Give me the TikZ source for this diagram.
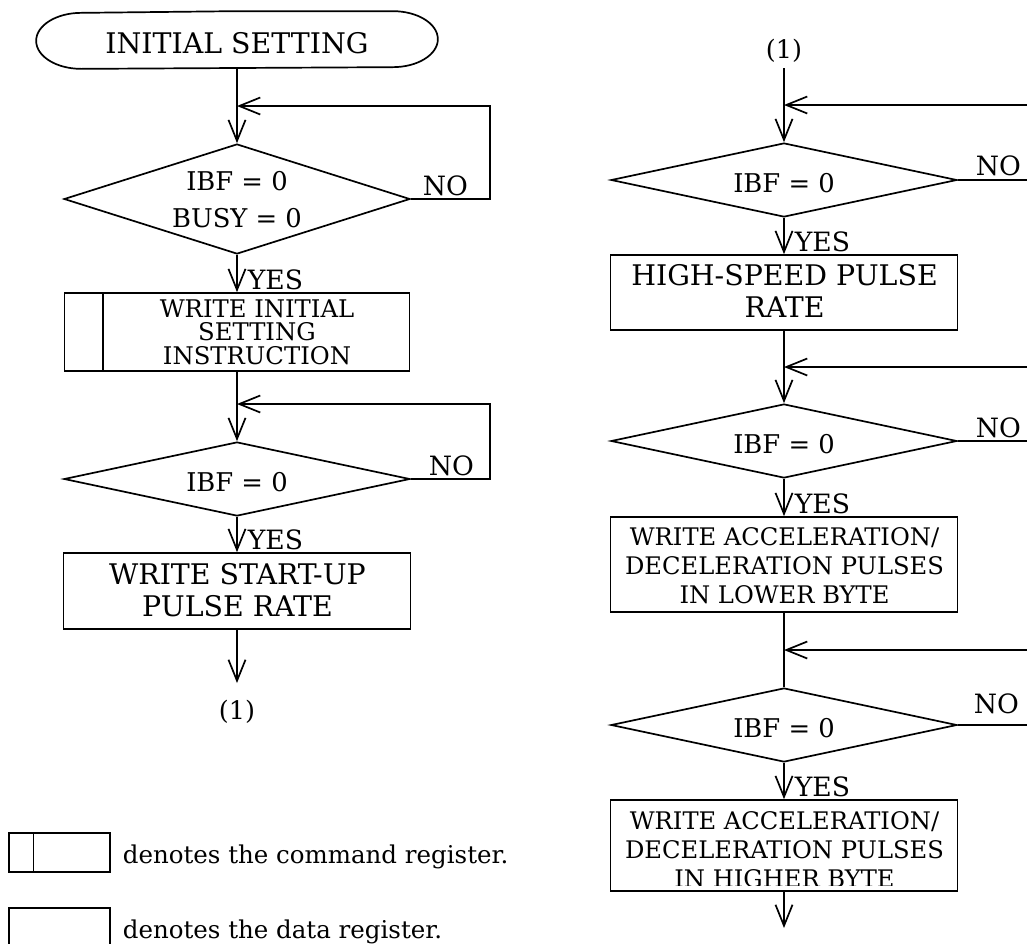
\documentclass[tikz,border=0pt]{standalone}
\usepackage{fontspec}
\setmainfont{DejaVu Serif}
\usetikzlibrary{shapes.geometric,arrows.meta,calc}

\begin{document}
\begin{tikzpicture}[x=1pt,y=-1pt,line width=1.7pt,
  flow/.style={-{Straight Barb[length=21pt,width=17pt]}},
  dec/.style={draw,diamond,inner sep=0pt,minimum width=346pt},
  box/.style={draw,rectangle,inner sep=0pt},
  txtL/.style={inner sep=0pt,align=center,font=\fontsize{28.4}{32}\selectfont},
  txtD/.style={inner sep=0pt,align=center,font=\fontsize{25.8}{37}\selectfont},
  txtM/.style={inner sep=0pt,align=center,font=\fontsize{24.2}{29}\selectfont},
  txtS/.style={inner sep=0pt,align=center,font=\fontsize{24.3}{23.5}\selectfont},
  lbl/.style={inner sep=0pt,anchor=base west,font=\fontsize{26.6}{30}\selectfont},
  conn/.style={inner sep=0pt,font=\fontsize{25.5}{28}\selectfont},
  note/.style={inner sep=0pt,anchor=base west,font=\fontsize{24.5}{30}\selectfont}]

\useasboundingbox (0,0) rectangle (1027,943);
\clip (0,0) rectangle (1027,943);

% ---------------- left column ----------------
\node[inner sep=0pt,minimum width=400pt,minimum height=56pt] (start) at (237,40) {};
\node[txtL] (startt) at (237,43) {INITIAL SETTING};
\draw (start.north) -- ($(start.north east)+(-45,0)$)
  arc[start angle=-90,end angle=90,x radius=45,y radius=28]
  -- ($(start.south west)+(45,0)$)
  arc[start angle=90,end angle=270,x radius=45,y radius=28] -- cycle;

\node[dec,minimum height=110pt] (d1) at (237,199) {};
\node[txtD] (d1t) at (237,200) {IBF = 0\\BUSY = 0};

\node[box,minimum width=345pt,minimum height=78pt] (b1) at (237,332) {};
\draw ($(b1.north west)+(39,0)$) -- ($(b1.south west)+(39,0)$);
\node[txtS] (b1t) at (257,332) {WRITE INITIAL\\SETTING\\INSTRUCTION};

\node[dec,minimum height=74pt] (d2) at (237,479) {};
\node[txtD] (d2t) at (237,482) {IBF = 0};

\node[box,minimum width=347pt,minimum height=76pt] (b2) at (237,591) {};
\node[txtL] (b2t) at (237.5,590) {WRITE START-UP\\PULSE RATE};

\coordinate (m1) at (237,106);
\coordinate (l1) at (490,106);
\coordinate (m2) at (237,404);
\coordinate (l2) at (490,404);
\coordinate (e1) at (237,683);
\node[conn] (c1) at (237,712) {(1)};

\draw[flow] (start.south) -- (d1.north);
\draw[flow] (d1.east) -| (l1) -- (m1);
\draw[flow] (d1.south) -- (b1.north);
\draw[flow] (b1.south) -- (d2.north);
\draw[flow] (d2.east) -| (l2) -- (m2);
\draw[flow] (d2.south) -- (b2.north);
\draw[flow] (b2.south) -- (e1);

\node[lbl] (no1) at (422,195) {NO};
\node[lbl] (no2) at (428,475) {NO};
\node[lbl] (yes1) at (247,289) {YES};
\node[lbl] (yes2) at (247,549) {YES};

% ---------------- right column ----------------
\node[conn] (c2) at (784,51) {(1)};
\coordinate (s2) at (784,68);

\node[dec,minimum height=74pt] (rd1) at (784,180) {};
\node[txtD] (rd1t) at (784,183) {IBF = 0};
\node[box,minimum width=347pt,minimum height=75pt] (rb1) at (784,292.5) {};
\node[txtL] (rb1t) at (784.5,291) {HIGH-SPEED PULSE\\RATE};

\node[dec,minimum height=74pt] (rd2) at (784,441) {};
\node[txtD] (rd2t) at (784,444) {IBF = 0};
\node[box,minimum width=347pt,minimum height=95pt] (rb2) at (784,564.5) {};
\node[txtM] (rb2t) at (784.5,566) {WRITE ACCELERATION/\\DECELERATION PULSES\\IN LOWER BYTE};

\node[dec,minimum height=74pt] (rd3) at (784,725) {};
\node[txtD] (rd3t) at (784,728) {IBF = 0};
\node[box,minimum width=347pt,minimum height=91pt] (rb3) at (784,845.5) {};
\begin{scope}
  \clip (600,790) rectangle (970,885);
  \node[txtM] (rb3t) at (784.5,850) {WRITE ACCELERATION/\\DECELERATION PULSES\\IN HIGHER BYTE};
\end{scope}

\coordinate (m3) at (784,105);
\coordinate (r3) at (1045,105);
\coordinate (m4) at (784,367);
\coordinate (r4) at (1045,367);
\coordinate (m5) at (784,650);
\coordinate (r5) at (1045,650);
\coordinate (e2) at (784,928);

\draw[flow] (s2) -- (rd1.north);
\draw[flow] (rd1.east) -| (r3) -- (m3);
\draw[flow] (rd1.south) -- (rb1.north);
\draw[flow] (rb1.south) -- (rd2.north);
\draw[flow] (rd2.east) -| (r4) -- (m4);
\draw[flow] (rd2.south) -- (rb2.north);
\draw (rb2.south) -- (rd3.north);
\draw[flow] (rd3.east) -| (r5) -- (m5);
\draw[flow] (rd3.south) -- (rb3.north);
\draw[flow] (rb3.south) -- (e2);

\node[lbl] (no3) at (975,175) {NO};
\node[lbl] (no4) at (975,437) {NO};
\node[lbl] (no5) at (973,713) {NO};
\node[lbl] (yes3) at (794,251) {YES};
\node[lbl] (yes4) at (794,513) {YES};
\node[lbl] (yes5) at (794,796) {YES};

% ---------------- legend ----------------
\node[box,line width=1.4pt,minimum width=101pt,minimum height=39pt] (k1) at (59.5,852.5) {};
\draw[line width=1.4pt] ($(k1.north west)+(25,0)$) -- ($(k1.south west)+(25,0)$);
\node[note] (k1t) at (122,863) {denotes the command register.};
\node[box,line width=1.4pt,minimum width=101pt,minimum height=39pt] (k2) at (59.5,927.5) {};
\node[note] (k2t) at (122,938) {denotes the data register.};
\end{tikzpicture}
\end{document}
